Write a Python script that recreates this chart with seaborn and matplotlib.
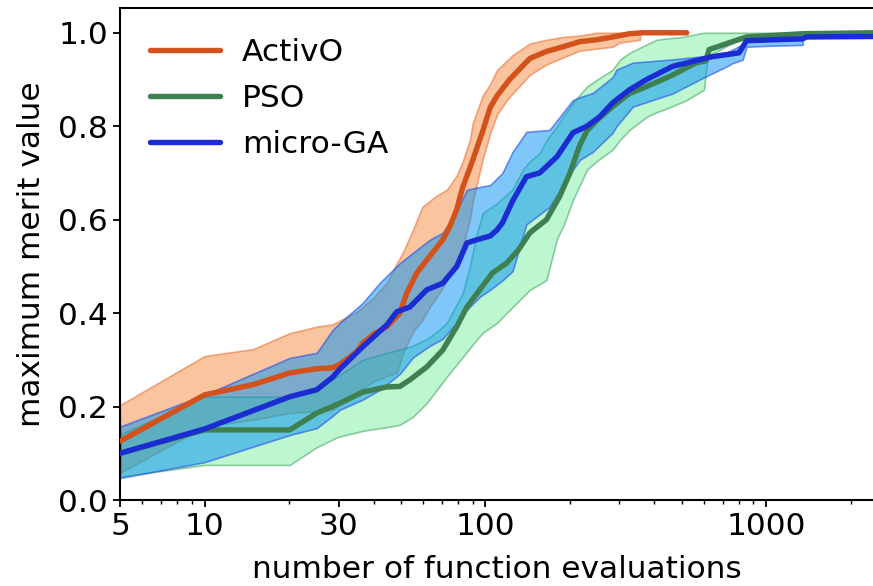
import matplotlib
matplotlib.use("Agg")
import matplotlib.pyplot as plt
import numpy as np
import pandas as pd
import seaborn as sns
from matplotlib.ticker import FixedLocator, FixedFormatter, LogLocator, NullFormatter

# ---- mean best merit per optimiser ------------------------------------
activo_x = [5, 10, 14.9, 20.1, 25.1, 28.6, 30.3, 34.9, 36.6, 40, 44.6, 49.6, 52.5, 57,
            61.9, 70.5, 74.7, 79.1, 83.1, 88, 90.2, 97.9, 104, 110, 122, 144, 165, 189,
            217, 249, 284, 326, 363, 521]
activo_mean = [0.126, 0.225, 0.247, 0.272, 0.281, 0.283, 0.29, 0.318, 0.336, 0.355,
               0.371, 0.400, 0.443, 0.486, 0.514, 0.557, 0.585, 0.622, 0.670, 0.710,
               0.728, 0.790, 0.840, 0.865, 0.900, 0.945, 0.960, 0.970, 0.981, 0.985,
               0.991, 0.998, 1.0, 1.0]

pso_x = [5, 10, 20.1, 25.1, 30.3, 36.6, 44.6, 49.6, 53.8, 61.9, 70.5, 79.1, 85.9, 95.5,
         106, 119, 131, 144, 165, 184, 200, 217, 230, 255, 284, 326, 375, 451, 565, 610,
         626, 741, 851, 1350, 2400]
pso_mean = [0.10, 0.15, 0.15, 0.186, 0.207, 0.231, 0.242, 0.243, 0.257, 0.285,
            0.321, 0.371, 0.413, 0.45, 0.486, 0.507, 0.535, 0.572, 0.600, 0.650,
            0.700, 0.760, 0.790, 0.818, 0.842, 0.870, 0.885, 0.906, 0.936, 0.940,
            0.964, 0.979, 0.991, 0.998, 1.0]

mga_x = [5, 10, 20.1, 25.1, 28.6, 30.3, 36.6, 44.6, 48.4, 53.8, 61.9, 70.5, 79.1, 85.9,
         93.2, 104, 110, 115, 125, 140, 156, 180, 205, 230, 255, 284, 326, 375, 464, 644,
         800, 851, 1348, 1393, 2400]
mga_mean = [0.10, 0.152, 0.221, 0.236, 0.263, 0.28, 0.328, 0.375, 0.403, 0.413,
            0.450, 0.464, 0.50, 0.55, 0.557, 0.565, 0.578, 0.593, 0.64, 0.692,
            0.70, 0.735, 0.786, 0.80, 0.82, 0.85, 0.878, 0.90, 0.928, 0.949,
            0.957, 0.983, 0.987, 0.991, 0.992]

# ---- spread bands (upper / lower) ---------------------------------------
activo_band_x = [5, 10, 14.9, 20.1, 25.1, 28.6, 34.9, 39.8, 44.6, 48.4, 50.9, 55.2, 59.6,
                 63.4, 67.2, 72.9, 79.1, 83.1, 88, 90.2, 97.9, 104, 110, 119, 125, 144,
                 165, 189, 217, 249, 284, 301, 355]
activo_upper = [0.203, 0.308, 0.323, 0.357, 0.371, 0.376, 0.403, 0.432, 0.465, 0.507,
                0.53, 0.578, 0.627, 0.64, 0.652, 0.664, 0.695, 0.725, 0.77, 0.807,
                0.866, 0.89, 0.92, 0.94, 0.952, 0.977, 0.985, 0.991, 0.994, 1.0,
                1.0, 1.0, 1.0]
activo_lower = [0.058, 0.157, 0.172, 0.186, 0.19, 0.193, 0.23, 0.253, 0.265, 0.272,
                0.315, 0.36, 0.385, 0.413, 0.435, 0.47, 0.514, 0.542, 0.60, 0.64,
                0.73, 0.785, 0.825, 0.855, 0.87, 0.91, 0.932, 0.947, 0.962, 0.966,
                0.970, 0.979, 0.985]

pso_band_x = [5, 10, 20.1, 25.1, 29.8, 36.6, 44.6, 49.6, 55.2, 61.9, 67.2, 72.9, 83.1,
              88, 93.2, 97.9, 110, 125, 136, 144, 156, 165, 180, 189, 205, 230, 249,
              284, 301, 326, 375, 407, 430, 504, 521, 600, 619, 741, 851, 1350, 2400]
pso_upper = [0.14, 0.221, 0.221, 0.24, 0.265, 0.30, 0.315, 0.322, 0.33, 0.345,
             0.36, 0.379, 0.443, 0.50, 0.57, 0.614, 0.635, 0.665, 0.707, 0.725,
             0.742, 0.77, 0.80, 0.82, 0.85, 0.885, 0.899, 0.921, 0.942, 0.957,
             0.975, 0.985, 0.987, 0.991, 0.993, 1.0, 1.0, 1.0, 1.0, 1.0, 1.0]
pso_lower = [0.05, 0.075, 0.075, 0.113, 0.135, 0.148, 0.156, 0.161, 0.178, 0.208,
             0.236, 0.264, 0.306, 0.325, 0.343, 0.358, 0.379, 0.413, 0.435, 0.45,
             0.462, 0.471, 0.56, 0.585, 0.642, 0.707, 0.725, 0.75, 0.77, 0.792,
             0.82, 0.83, 0.835, 0.852, 0.856, 0.878, 0.95, 0.975, 0.99, 0.997, 1.0]

mga_band_x = [5, 10, 20.1, 25.1, 28.6, 30.3, 36.6, 42.1, 49.6, 55.2, 63.4, 70.5, 79.1,
              85.9, 95.5, 104, 115, 125, 140, 169, 205, 217, 241, 284, 293, 335, 464,
              580, 723, 759, 824, 851, 1003, 1348]
mga_upper = [0.157, 0.225, 0.304, 0.315, 0.364, 0.379, 0.422, 0.465, 0.507, 0.529,
             0.557, 0.572, 0.62, 0.664, 0.67, 0.674, 0.70, 0.745, 0.788, 0.792,
             0.856, 0.862, 0.871, 0.905, 0.921, 0.936, 0.943, 0.949, 0.958, 0.964,
             0.975, 0.985, 0.996, 0.996]
mga_lower = [0.047, 0.081, 0.139, 0.154, 0.18, 0.193, 0.215, 0.236, 0.27, 0.305,
             0.33, 0.345, 0.38, 0.407, 0.435, 0.45, 0.47, 0.49, 0.59, 0.627,
             0.707, 0.728, 0.745, 0.786, 0.80, 0.842, 0.87, 0.90, 0.928, 0.935,
             0.942, 0.97, 0.972, 0.974]

labels = ["ActivO", "PSO", "micro-GA"]
x_ticks = [5, 10, 30, 100, 1000]
x_tick_labels = ["5", "10", "30", "100", "1000"]
y_ticks = [0.0, 0.2, 0.4, 0.6, 0.8, 1.0]

line_colors = {"ActivO": "#d3511b", "PSO": "#3f8050", "micro-GA": "#1b2cd3"}
band_face = {"ActivO": (0.96, 0.49, 0.17, 0.45),
             "PSO": (0.17, 0.91, 0.40, 0.31),
             "micro-GA": (0.0, 0.57, 0.96, 0.50)}
band_edge = {"ActivO": (0.90, 0.42, 0.18, 0.55),
             "PSO": (0.20, 0.60, 0.32, 0.50),
             "micro-GA": (0.15, 0.30, 0.90, 0.60)}

sns.set_style("ticks")
plt.rcParams["font.family"] = ["DejaVu Sans"]
plt.rcParams.update({"text.color": "black", "axes.labelcolor": "black",
                     "xtick.color": "black", "ytick.color": "black"})
FS = 22.5

df = pd.concat([
    pd.DataFrame({"evaluations": activo_x, "merit": activo_mean, "algorithm": "ActivO"}),
    pd.DataFrame({"evaluations": pso_x, "merit": pso_mean, "algorithm": "PSO"}),
    pd.DataFrame({"evaluations": mga_x, "merit": mga_mean, "algorithm": "micro-GA"}),
], ignore_index=True)

fig = plt.figure(figsize=(8.73, 5.86), dpi=100)
ax = fig.add_axes([120 / 873, 86 / 586, 753 / 873, 492 / 586])
ax.set_xscale("log")

bands = [("ActivO", activo_band_x, activo_lower, activo_upper),
         ("PSO", pso_band_x, pso_lower, pso_upper),
         ("micro-GA", mga_band_x, mga_lower, mga_upper)]
for name, bx, lo, hi in bands:
    ax.fill_between(bx, lo, hi, facecolor=band_face[name],
                    edgecolor=band_edge[name], linewidth=1.2, zorder=1)

sns.lineplot(data=df, x="evaluations", y="merit", hue="algorithm",
             hue_order=labels, palette=line_colors, linewidth=3.9,
             estimator=None, ax=ax, zorder=3)

ax.set_xlim(5, 2400)
ax.set_ylim(0, 1.053)
ax.xaxis.set_major_locator(FixedLocator(x_ticks))
ax.xaxis.set_major_formatter(FixedFormatter(x_tick_labels))
ax.xaxis.set_minor_locator(LogLocator(base=10, subs=np.arange(2, 10)))
ax.xaxis.set_minor_formatter(NullFormatter())
ax.set_yticks(y_ticks)
ax.set_yticklabels([f"{v:.1f}" for v in y_ticks])

ax.spines["right"].set_visible(False)
for side in ("left", "top", "bottom"):
    ax.spines[side].set_linewidth(1.5)
    ax.spines[side].set_color("black")
ax.tick_params(which="major", length=5, width=1.3, labelsize=FS, colors="black")
ax.tick_params(which="minor", length=3, width=1.0, colors="black")

ax.set_xlabel("number of function evaluations", fontsize=FS, labelpad=10)
ax.set_ylabel("maximum merit value", fontsize=FS, labelpad=9)

handles, labs = ax.get_legend_handles_labels()
ax.legend(handles, labs, loc="upper left", frameon=False, fontsize=FS,
          handlelength=2.25, handletextpad=0.7, labelspacing=0.55,
          borderaxespad=0.55)

fig.savefig("out.png", dpi=100)
